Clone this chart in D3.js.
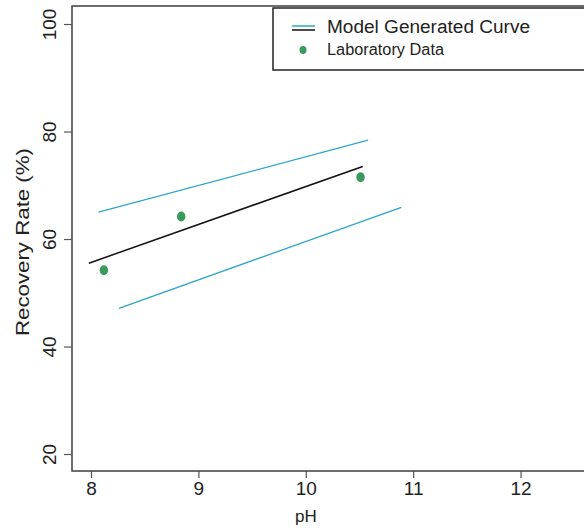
<!DOCTYPE html>
<html>
<head>
<meta charset="utf-8">
<script src="https://cdn.jsdelivr.net/npm/d3@7"></script>
<style>
  html, body { margin: 0; padding: 0; background: #fff; }
  svg { display: block; font-family: "Liberation Sans", Arial, sans-serif; }
</style>
</head>
<body>
<svg id="chart" width="584" height="531"></svg>
<script>
// Model curve: central fit and its upper / lower bounds (pH, recovery %)
const modelFit   = [{ph: 7.98, rate: 55.5}, {ph: 10.53, rate: 73.5}];
const upperBound = [{ph: 8.07, rate: 65.0}, {ph: 10.58, rate: 78.4}];
const lowerBound = [{ph: 8.26, rate: 47.1}, {ph: 10.89, rate: 65.9}];

// Laboratory measurements
const labPH   = [8.12, 8.84, 10.51];
const labRate = [54.2, 64.2, 71.5];

const xTicks = [8, 9, 10, 11, 12];
const yTicks = [20, 40, 60, 80, 100];

const legendLabels = ["Model Generated Curve", "Laboratory Data"];

const svg = d3.select("#chart");

const x = d3.scaleLinear().domain([7.823, 12.68]).range([72, 593.6]);
const y = d3.scaleLinear().domain([16.84, 103.35]).range([471, 6]);

const boundColor = "#2ea6c8";
const pointColor = "#3a9a5c";

// Plot frame
svg.append("rect")
  .attr("x", x.range()[0]).attr("y", y.range()[1])
  .attr("width", x.range()[1] - x.range()[0])
  .attr("height", y.range()[0] - y.range()[1])
  .attr("fill", "none").attr("stroke", "#4a4a4a").attr("stroke-width", 1.6);

// X axis
const xAxis = svg.append("g")
  .attr("transform", `translate(0,${y.range()[0]})`)
  .call(d3.axisBottom(x).tickValues(xTicks).tickSize(7).tickPadding(4).tickFormat(d3.format("d")));
xAxis.select(".domain").remove();
xAxis.selectAll(".tick line").attr("stroke", "#555").attr("stroke-width", 1.2);
xAxis.selectAll(".tick text")
  .attr("font-size", 19).attr("fill", "#222")
  .attr("font-family", "Liberation Sans, Arial, sans-serif");

// Y axis with rotated tick labels
const yAxis = svg.append("g")
  .attr("transform", `translate(${x.range()[0]},0)`)
  .call(d3.axisLeft(y).tickValues(yTicks).tickSize(8).tickFormat(d3.format("d")));
yAxis.select(".domain").remove();
yAxis.selectAll(".tick line").attr("stroke", "#555").attr("stroke-width", 1.2);
yAxis.selectAll(".tick text")
  .attr("x", null).attr("dy", null)
  .attr("transform", "translate(-16,0) rotate(-90)")
  .attr("text-anchor", "middle")
  .attr("font-size", 19).attr("fill", "#222")
  .attr("font-family", "Liberation Sans, Arial, sans-serif");

// Axis titles
svg.append("text")
  .attr("x", x(10)).attr("y", 522)
  .attr("text-anchor", "middle")
  .attr("font-size", 17).attr("fill", "#222")
  .text("pH");

svg.append("text")
  .attr("transform", `translate(29,${y(60) + 3}) rotate(-90)`)
  .attr("text-anchor", "middle")
  .attr("font-size", 18).attr("fill", "#222")
  .attr("textLength", 188).attr("lengthAdjust", "spacingAndGlyphs")
  .text("Recovery Rate (%)");

// Model lines
const line = d3.line().x(d => x(d.ph)).y(d => y(d.rate));

svg.append("path").datum(upperBound).attr("d", line)
  .attr("fill", "none").attr("stroke", boundColor).attr("stroke-width", 1.3);
svg.append("path").datum(lowerBound).attr("d", line)
  .attr("fill", "none").attr("stroke", boundColor).attr("stroke-width", 1.3);
svg.append("path").datum(modelFit).attr("d", line)
  .attr("fill", "none").attr("stroke", "#111").attr("stroke-width", 1.5);

// Lab points
svg.selectAll("ellipse.lab")
  .data(labPH.map((p, i) => ({ph: p, rate: labRate[i]})))
  .join("ellipse")
  .attr("class", "lab")
  .attr("cx", d => x(d.ph)).attr("cy", d => y(d.rate))
  .attr("rx", 4.2).attr("ry", 5)
  .attr("fill", pointColor);

// Legend
const legend = svg.append("g");
legend.append("rect")
  .attr("x", 273).attr("y", 8).attr("width", 330).attr("height", 62)
  .attr("fill", "#fff").attr("stroke", "#222").attr("stroke-width", 1.5);
legend.append("line")
  .attr("x1", 292).attr("x2", 315).attr("y1", 26).attr("y2", 26)
  .attr("stroke", boundColor).attr("stroke-width", 1.5);
legend.append("line")
  .attr("x1", 292).attr("x2", 315).attr("y1", 30).attr("y2", 30)
  .attr("stroke", "#111").attr("stroke-width", 1.5);
legend.append("text")
  .attr("x", 327).attr("y", 33)
  .attr("font-size", 18).attr("fill", "#222")
  .attr("textLength", 203).attr("lengthAdjust", "spacingAndGlyphs")
  .text(legendLabels[0]);
legend.append("ellipse")
  .attr("cx", 303).attr("cy", 50).attr("rx", 3.5).attr("ry", 4)
  .attr("fill", pointColor);
legend.append("text")
  .attr("x", 327).attr("y", 55)
  .attr("font-size", 16).attr("fill", "#222")
  .attr("textLength", 117).attr("lengthAdjust", "spacingAndGlyphs")
  .text(legendLabels[1]);
</script>
</body>
</html>
